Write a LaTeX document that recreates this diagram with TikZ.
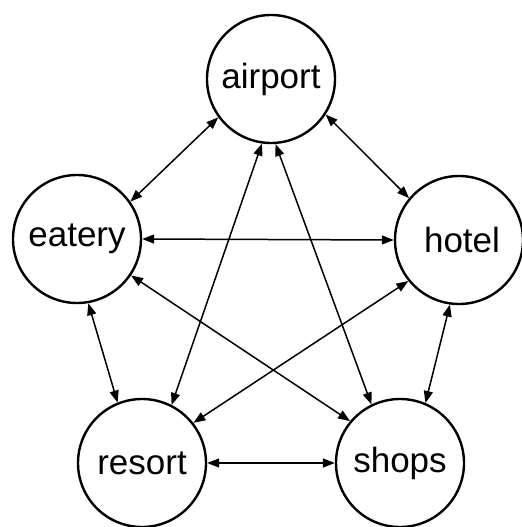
\documentclass[tikz,border=0pt]{standalone}
\usepackage{fontspec}
\setmainfont{Liberation Sans}
\usetikzlibrary{arrows.meta}
\begin{document}
\begin{tikzpicture}[x=1bp,y=-1bp,
  place/.style={circle,draw,line width=2.4bp,minimum size=128bp,inner sep=0pt,
    font=\fontsize{35bp}{40bp}\selectfont},
  link/.style={line width=1.5bp,{Triangle[length=12bp,width=9bp]}-{Triangle[length=12bp,width=9bp]}}]
\useasboundingbox (0,0) rectangle (522,527);
\node[place] (airport) at (271,79) {airport};
\node[place] (eatery) at (77,239) {eatery};
\node[place] (hotel) at (459,240) {\hspace*{6bp}hotel};
\node[place] (resort) at (142,463) {resort};
\node[place] (shops) at (400,463) {shops};
\draw[link] (airport.216) -- (eatery.35);
\draw[link] (airport.327) -- (hotel.140);
\draw[link] (airport.262) -- (resort.63);
\draw[link] (airport.274) -- (shops.116);
\draw[link] (eatery.east) -- (hotel.west);
\draw[link] (eatery.326) -- (shops.140);
\draw[link] (hotel.219) -- (resort.38);
\draw[link] (eatery.280) -- (resort.112);
\draw[link] (hotel.262) -- (shops.67);
\draw[link] (resort.east) -- (shops.west);
\end{tikzpicture}
\end{document}
